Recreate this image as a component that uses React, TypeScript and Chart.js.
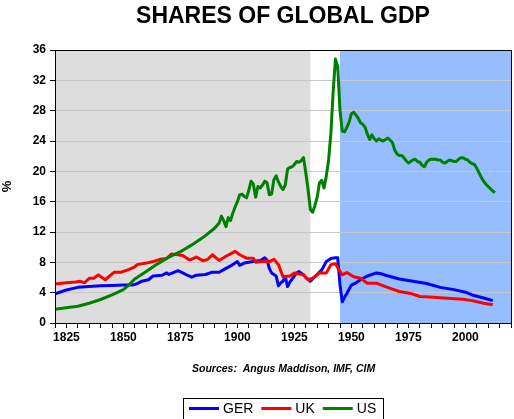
import React, { useEffect, useRef } from 'react';
import { Chart, registerables } from 'chart.js';

Chart.register(...registerables);

// ---- Data ----
const gerYears = [1820, 1825, 1830, 1835, 1840, 1845, 1850, 1854, 1856, 1858, 1861, 1863, 1867, 1869, 1870, 1874, 1876, 1878, 1880, 1882, 1886, 1889, 1892, 1895, 1898, 1900, 1901, 1903, 1907, 1910, 1912, 1913, 1914, 1915, 1917, 1918, 1919, 1920, 1921, 1922, 1923, 1924, 1926, 1927, 1929, 1930, 1932, 1934, 1937, 1939, 1941, 1943, 1944, 1945, 1946, 1947, 1948, 1950, 1952, 1954, 1957, 1961, 1963, 1965, 1971, 1977, 1983, 1989, 1995, 2000, 2003, 2008, 2012];
const gerValues = [3.85, 4.35, 4.7, 4.8, 4.9, 4.95, 5.0, 5.0, 5.2, 5.5, 5.7, 6.2, 6.3, 6.6, 6.4, 6.9, 6.6, 6.3, 6.05, 6.3, 6.4, 6.7, 6.7, 7.2, 7.7, 8.1, 7.6, 7.9, 8.1, 8.25, 8.6, 8.3, 7.2, 6.6, 6.2, 4.9, 5.3, 5.5, 6.1, 4.8, 5.4, 5.8, 6.6, 6.8, 6.35, 6.0, 5.5, 6.1, 7.0, 8.1, 8.5, 8.6, 8.6, 5.0, 2.8, 3.4, 3.9, 5.0, 5.3, 5.7, 6.2, 6.6, 6.5, 6.3, 5.8, 5.5, 5.2, 4.7, 4.4, 4.06, 3.7, 3.3, 2.95];

const ukYears = [1820, 1825, 1829, 1831, 1833, 1835, 1837, 1839, 1842, 1846, 1849, 1852, 1855, 1856, 1860, 1863, 1866, 1869, 1871, 1874, 1876, 1879, 1882, 1885, 1887, 1889, 1892, 1895, 1899, 1901, 1904, 1907, 1908, 1911, 1914, 1916, 1918, 1920, 1923, 1925, 1929, 1931, 1933, 1936, 1939, 1941, 1943, 1945, 1946, 1948, 1951, 1954, 1957, 1961, 1964, 1968, 1971, 1976, 1980, 1986, 1992, 1999, 2003, 2008, 2012];
const ukValues = [5.15, 5.3, 5.4, 5.5, 5.3, 5.9, 5.9, 6.35, 5.7, 6.7, 6.7, 7.0, 7.4, 7.7, 7.9, 8.1, 8.4, 8.5, 9.1, 9.0, 8.9, 8.3, 8.7, 8.2, 8.4, 9.0, 8.25, 8.8, 9.45, 9.0, 8.55, 8.55, 8.0, 8.1, 8.1, 8.4, 7.7, 6.1, 6.2, 6.6, 6.35, 5.7, 5.9, 6.6, 6.6, 7.7, 7.8, 6.8, 6.35, 6.65, 6.1, 5.9, 5.25, 5.25, 4.9, 4.46, 4.15, 3.9, 3.5, 3.4, 3.27, 3.14, 2.95, 2.6, 2.4];

const usYears = [1820, 1825, 1830, 1835, 1840, 1845, 1850, 1852, 1855, 1860, 1865, 1870, 1875, 1880, 1885, 1890, 1892, 1893, 1894, 1895, 1896, 1897, 1898, 1899, 1900, 1901, 1902, 1903, 1904, 1905, 1906, 1907, 1908, 1909, 1910, 1911, 1912, 1913, 1914, 1915, 1916, 1917, 1918, 1919, 1920, 1921, 1922, 1923, 1924, 1925, 1926, 1927, 1928, 1929, 1930, 1931, 1932, 1933, 1934, 1935, 1936, 1937, 1938, 1939, 1940, 1941, 1942, 1943, 1944, 1945, 1946, 1947, 1948, 1949, 1950, 1951, 1952, 1953, 1954, 1955, 1956, 1957, 1958, 1959, 1960, 1961, 1962, 1963, 1964, 1965, 1966, 1967, 1968, 1969, 1970, 1971, 1972, 1973, 1974, 1975, 1976, 1977, 1978, 1979, 1980, 1981, 1982, 1983, 1984, 1985, 1986, 1987, 1988, 1989, 1990, 1991, 1992, 1993, 1994, 1995, 1996, 1997, 1998, 1999, 2000, 2001, 2002, 2003, 2004, 2005, 2006, 2007, 2008, 2009, 2010, 2011, 2012, 2013];
const usValues = [1.8, 2.0, 2.2, 2.6, 3.1, 3.7, 4.4, 4.9, 5.8, 6.8, 7.8, 8.7, 9.4, 10.3, 11.3, 12.5, 13.2, 14.1, 13.5, 12.7, 13.9, 13.5, 14.5, 15.3, 16.0, 16.9, 17.0, 16.7, 16.5, 17.5, 18.7, 18.3, 16.6, 18.0, 17.8, 18.2, 18.7, 18.5, 16.9, 17.0, 18.9, 19.4, 18.6, 18.0, 17.6, 18.2, 20.3, 20.5, 20.6, 20.9, 21.3, 21.2, 21.4, 21.8, 19.8, 17.6, 15.0, 14.6, 15.5, 16.6, 18.5, 18.8, 17.8, 19.4, 21.5, 25.0, 30.5, 34.8, 33.8, 28.0, 25.3, 25.2, 25.8, 26.5, 27.6, 27.8, 27.4, 27.0, 26.4, 26.2, 25.8, 24.9, 24.2, 24.8, 24.3, 24.0, 24.3, 24.1, 24.0, 24.2, 24.4, 24.1, 23.8, 22.8, 22.3, 22.1, 22.1, 21.8, 21.4, 21.1, 21.3, 21.5, 21.6, 21.3, 21.2, 20.8, 20.6, 21.2, 21.5, 21.6, 21.6, 21.6, 21.5, 21.5, 21.2, 21.1, 21.3, 21.5, 21.4, 21.3, 21.3, 21.6, 21.8, 21.8, 21.6, 21.5, 21.2, 21.0, 20.9, 20.4, 19.8, 19.2, 18.7, 18.3, 18.0, 17.7, 17.4, 17.2];

const seriesNames = ['GER', 'UK', 'US'];
const seriesColors = ['#0000FF', '#FF0000', '#008000'];
const xTickLabels = [1825, 1850, 1875, 1900, 1925, 1950, 1975, 2000];
const yMin = 0;
const yMax = 36;
const yStep = 4;
const xMin = 1820;
const xMax = 2020;
const xStep = 5;
const shadeGreyRange = [1820, 1932];
const shadeBlueRange = [1945, 2020];

const titleText = 'SHARES OF GLOBAL GDP';
const sourcesText = 'Sources:  Angus Maddison, IMF, CIM';
const yAxisTitle = '%';

const FONT = '"Liberation Sans", Arial, Helvetica, sans-serif';

function toPoints(xs: number[], ys: number[]) {
  return xs.map((x, i) => ({ x, y: ys[i] }));
}

const decorPlugin = {
  id: 'decor',
  beforeDraw(chart: any) {
    const { ctx, chartArea: a, scales } = chart;
    const x = scales.x;
    ctx.save();
    ctx.fillStyle = '#FFFFFF';
    ctx.fillRect(0, 0, chart.width, chart.height);
    const g0 = x.getPixelForValue(shadeGreyRange[0]);
    const g1 = x.getPixelForValue(shadeGreyRange[1]);
    ctx.fillStyle = '#DDDDDD';
    ctx.fillRect(g0, a.top, g1 - g0, a.bottom - a.top);
    const b0 = x.getPixelForValue(shadeBlueRange[0]);
    const b1 = x.getPixelForValue(shadeBlueRange[1]);
    ctx.fillStyle = '#96BEFF';
    ctx.fillRect(b0, a.top, b1 - b0, a.bottom - a.top);
    ctx.restore();
  },
  afterDraw(chart: any) {
    const { ctx, chartArea: a } = chart;
    ctx.save();
    // frame
    ctx.strokeStyle = '#000';
    ctx.lineWidth = 1;
    ctx.strokeRect(Math.round(a.left) + 0.5, Math.round(a.top) + 0.5, Math.round(a.right - a.left), Math.round(a.bottom - a.top));
    // title
    ctx.fillStyle = '#000';
    ctx.font = `bold 23px ${FONT}`;
    ctx.textAlign = 'center';
    ctx.textBaseline = 'middle';
    ctx.fillText(titleText, (a.left + a.right) / 2, 17);
    // sources
    ctx.font = `italic bold 10.5px ${FONT}`;
    ctx.textAlign = 'left';
    ctx.fillText(sourcesText, 192, 369);
    // legend
    const boxL = 183.5, boxT = 398.5, boxR = 383.5;
    ctx.strokeRect(boxL, boxT, boxR - boxL, 40);
    ctx.font = `14px ${FONT}`;
    ctx.textBaseline = 'middle';
    let cx = 189;
    const ly = 408.5;
    chart.data.datasets.forEach((ds: any) => {
      ctx.strokeStyle = ds.borderColor;
      ctx.lineWidth = 3;
      ctx.beginPath();
      ctx.moveTo(cx, ly);
      ctx.lineTo(cx + 30, ly);
      ctx.stroke();
      cx += 34;
      ctx.fillStyle = '#000';
      ctx.fillText(ds.label, cx, ly + 1);
      cx += ctx.measureText(ds.label).width + 8;
    });
    ctx.restore();
  },
};

export default function App() {
  const canvasRef = useRef<HTMLCanvasElement | null>(null);

  useEffect(() => {
    document.body.style.margin = '0';
    const canvas = canvasRef.current;
    if (!canvas) return;
    const seriesData = [
      toPoints(gerYears, gerValues),
      toPoints(ukYears, ukValues),
      toPoints(usYears, usValues),
    ];
    const chart = new Chart(canvas, {
      type: 'line',
      data: {
        datasets: seriesNames.map((name, i) => ({
          label: name,
          data: seriesData[i],
          borderColor: seriesColors[i],
          backgroundColor: seriesColors[i],
          borderWidth: 3,
          pointRadius: 0,
          tension: 0,
          borderJoinStyle: 'round' as const,
          fill: false,
          order: 3 - i,
        })),
      },
      options: {
        animation: false,
        responsive: false,
        devicePixelRatio: 1,
        events: [],
        layout: { padding: { top: 50, right: 3, bottom: 76, left: 0 } },
        plugins: {
          legend: { display: false },
          title: { display: false },
          tooltip: { enabled: false },
        },
        scales: {
          x: {
            type: 'linear',
            min: xMin,
            max: xMax,
            afterFit: (s: any) => { s.height = 20; },
            ticks: {
              stepSize: xStep,
              autoSkip: false,
              maxRotation: 0,
              padding: 2,
              color: '#000',
              font: { family: FONT, size: 12, weight: 'bold' },
              callback: (v: any) => (xTickLabels.includes(Number(v)) ? String(v) : ''),
            },
            grid: { drawOnChartArea: false, color: '#000', tickColor: '#000', tickLength: 5 },
            border: { display: true, color: '#000', width: 1 },
          },
          y: {
            type: 'linear',
            min: yMin,
            max: yMax,
            afterFit: (s: any) => { s.width = 55; },
            ticks: {
              stepSize: yStep,
              padding: 4,
              color: '#000',
              font: { family: FONT, size: 12, weight: 'bold' },
            },
            title: {
              display: true,
              text: yAxisTitle,
              color: '#000',
              font: { family: FONT, size: 13, weight: 'bold' },
              padding: { top: 0, bottom: 0 },
            },
            grid: {
              color: (c: any) => (c.tick && (c.tick.value === yMin || c.tick.value === yMax) ? 'rgba(0,0,0,0)' : '#C8C8C8'),
              tickColor: '#000',
              tickLength: 5,
            },
            border: { display: true, color: '#000', width: 1 },
          },
        },
      },
      plugins: [decorPlugin],
    });
    return () => chart.destroy();
  }, []);

  return (
    <div style={{ width: 514, height: 419 }}>
      <canvas ref={canvasRef} width={514} height={419} />
    </div>
  );
}
